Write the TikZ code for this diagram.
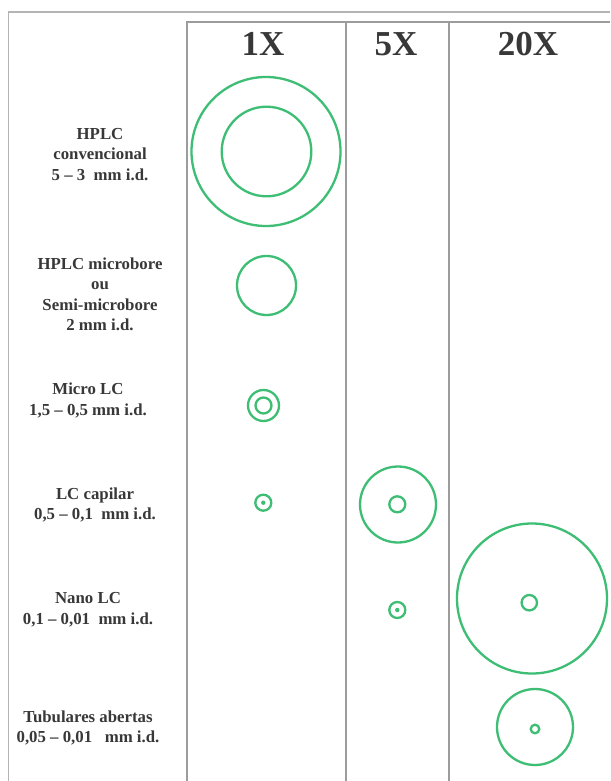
\documentclass[tikz,border=0pt]{standalone}
\usepackage{fontspec}
\setmainfont{Liberation Serif}
\definecolor{ringgreen}{HTML}{3DBE74}
\definecolor{framegray}{HTML}{B4B4B4}
\definecolor{colgray}{HTML}{9C9C9C}
\definecolor{ink}{HTML}{383838}
\begin{document}
\begin{tikzpicture}[x=1pt,y=-1pt,
  ring/.style={circle, draw=ringgreen, line width=2.3pt, inner sep=0pt, minimum size=#1},
  dotmark/.style={circle, fill=ringgreen, inner sep=0pt, minimum size=#1},
  head/.style={anchor=base, text=ink, font=\bfseries\fontsize{35}{35}\selectfont},
  lab/.style={align=center, text=ink, font=\bfseries\fontsize{16.8}{20.5}\selectfont}]
\useasboundingbox (0,0) rectangle (610,781);
\fill[white] (0,0) rectangle (610,781);

% outer frame and column rules
\draw[framegray, line width=1.3pt] (8.5,781) -- (8.5,12) -- (610,12);
\draw[colgray, line width=1.5pt] (187,781) -- (187,22) -- (610,22);
\draw[colgray, line width=1.5pt] (346,22) -- (346,781);
\draw[colgray, line width=1.5pt] (449,22) -- (449,781);

% column headings
\node[head] (h1)  at (263,56) {1X};
\node[head] (h5)  at (396,56) {5X};
\node[head] (h20) at (528,56) {20X};

% row labels
\node[lab] (l1) at (100,154.5) {HPLC\\convencional\\5 – 3~ mm i.d.};
\node[lab] (l2) at (100,294.5) {HPLC microbore\\ou\\Semi-microbore\\2 mm i.d.};
\node[lab] (l3) at (88,400.5) {Micro LC\\1,5 – 0,5 mm i.d.};
\node[lab] (l4) at (95,505) {LC capilar\\0,5 – 0,1~ mm i.d.};
\node[lab] (l5) at (88,609.5) {Nano LC\\0,1 – 0,01~ mm i.d.};
\node[lab] (l6) at (88,728) {Tubulares abertas\\0,05 – 0,01~~ mm i.d.};

% HPLC convencional, 1X
\node[ring=149pt] (conv-out) at (266,151.5) {};
\node[ring=89.6pt] (conv-in) at (266.5,151.5) {};
% HPLC microbore, 1X
\node[ring=59pt] (micb) at (266.5,285.5) {};
% Micro LC, 1X
\node[ring=31pt] (micro-out) at (263.5,405.5) {};
\node[ring=16pt] (micro-in) at (263.5,405.5) {};
% LC capilar, 1X and 5X
\node[ring=16pt] (cap1-out) at (263.3,502.7) {};
\node[dotmark=4.4pt] (cap1-in) at (263.3,502.7) {};
\node[ring=76pt] (cap5-out) at (398,504.5) {};
\node[ring=16pt] (cap5-in) at (397.3,504.3) {};
% Nano LC, 5X and 20X
\node[ring=16pt] (nano5-out) at (397.3,610) {};
\node[dotmark=4.4pt] (nano5-in) at (397.3,610) {};
\node[ring=150pt] (nano20-out) at (532,598.5) {};
\node[ring=15.4pt] (nano20-in) at (529.3,602.7) {};
% Tubulares abertas, 20X
\node[ring=76pt] (tub20-out) at (535,727) {};
\node[ring=8.6pt] (tub20-in) at (535,729) {};
\end{tikzpicture}
\end{document}
